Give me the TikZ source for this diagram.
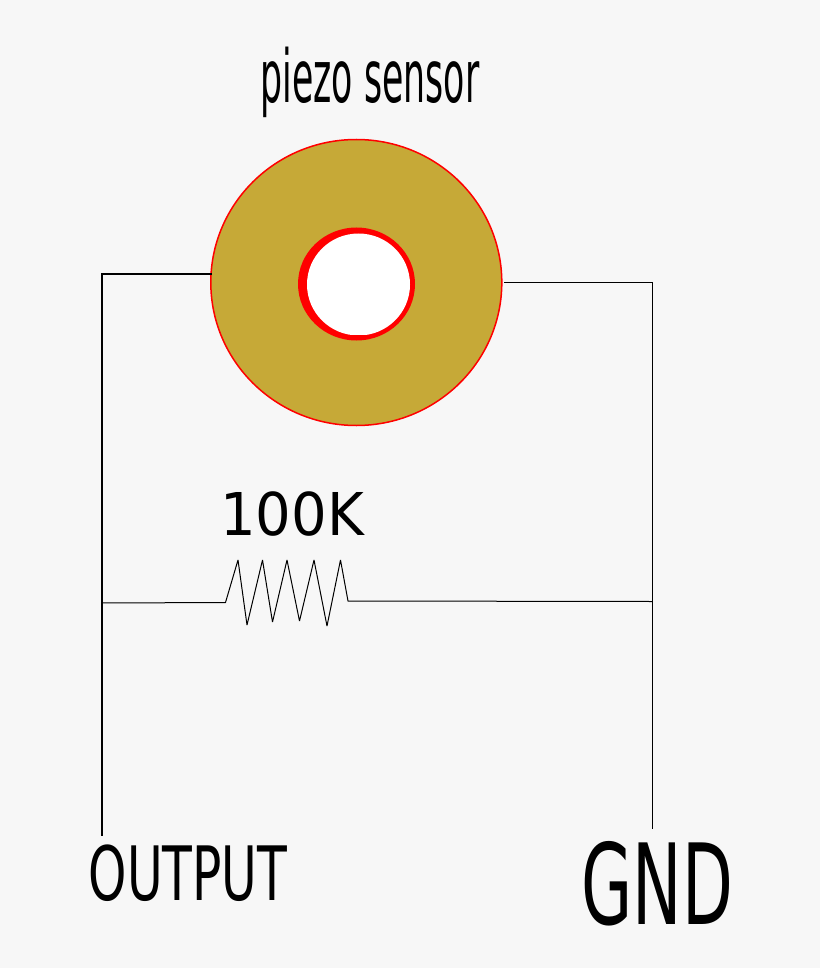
\documentclass[tikz,border=0pt]{standalone}
\usepackage{fontspec}
\usetikzlibrary{shapes.geometric}
\setmainfont{DejaVu Sans}
\definecolor{bgc}{HTML}{F7F7F7}
\definecolor{gold}{HTML}{C6A937}
\tikzset{
  wire/.style={draw=black,line width=1pt},
  thickwire/.style={draw=black,line width=2pt},
  lbl/.style={inner sep=0pt,text=black,anchor=center},
  oval/.style={ellipse,inner sep=0pt},
}
\begin{document}
\begin{tikzpicture}[x=1pt,y=-1pt]
\useasboundingbox (0,0) rectangle (820,968);
\fill[bgc] (0,0) rectangle (820,968);
% disc
\node[oval,draw=red,line width=1.5pt,fill=gold,minimum width=291pt,minimum height=286pt] (disc) at (356.3,282.5) {};
\node[oval,fill=red,minimum width=117pt,minimum height=113pt] (ring) at (356.5,284) {};
\begin{scope}
\clip (280,210) rectangle (430,334);
\node[oval,fill=white,minimum width=103pt,minimum height=102pt] (hole) at (358.5,284.5) {};
\end{scope}
% labels
\node[lbl] (title) at (370,82) {\scalebox{.476}[1]{\fontsize{73}{73}\selectfont piezo sensor}};
\node[lbl] (rval) at (292,514) {\scalebox{.95}[1]{\fontsize{59}{59}\selectfont 100K}};
\node[lbl] (out) at (188,873) {\scalebox{.65}[1]{\fontsize{75}{75}\selectfont OUTPUT}};
\node[lbl] (gnd) at (657.5,884) {\scalebox{.59}[1]{\fontsize{112}{112}\selectfont GND}};
% coordinates
\coordinate (discL) at (212,273.5);
\coordinate (cornerL) at (101.5,273.5);
\coordinate (outEnd) at (101.5,836);
\coordinate (junctL) at (101.5,603);
\coordinate (discR) at (504,282.5);
\coordinate (cornerR) at (652.5,282.5);
\coordinate (gndEnd) at (652.5,829);
\coordinate (junctR) at (652.5,601.5);
\coordinate (resL) at (225.5,602.5);
\coordinate (resR) at (348,601);
% wires
\draw[thickwire] (discL) -- (cornerL) -- (outEnd);
\draw[wire] (discR) -- (cornerR) -- (gndEnd);
\draw[wire,line join=bevel] (junctL) -- (resL) -- (238,560) -- (247,625) -- (262.5,560) -- (272.5,622) -- (287,560) -- (299.5,621) -- (314,560) -- (327,626) -- (340.5,560) -- (resR) -- (junctR);
\end{tikzpicture}
\end{document}
